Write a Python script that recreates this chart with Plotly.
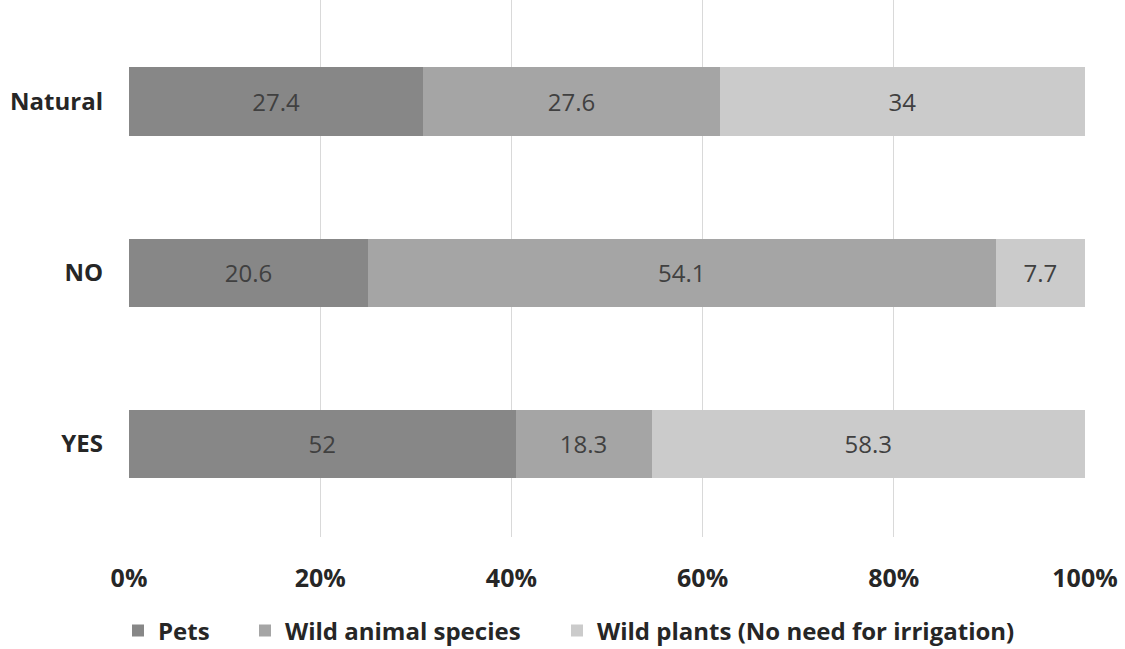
import plotly.graph_objects as go

categories = ["YES", "NO", "Natural"]
pets = [52, 20.6, 27.4]
wild_animals = [18.3, 54.1, 27.6]
wild_plants = [58.3, 7.7, 34]

series_names = ["Pets", "Wild animal species", "Wild plants (No need for irrigation)"]
series_values = [pets, wild_animals, wild_plants]
series_colors = ["#878787", "#a5a5a5", "#cbcbcb"]
legend_ids = ["legend", "legend2", "legend3"]
legend_left_px = [118, 245, 557]

tick_vals = [0, 20, 40, 60, 80, 100]
tick_text = ["0%", "20%", "40%", "60%", "80%", "100%"]

font_family = "Open Sans, Liberation Sans, sans-serif"
W, H = 1125, 649

fig = go.Figure()
for name, vals, color, lg in zip(series_names, series_values, series_colors, legend_ids):
    fig.add_trace(go.Bar(
        name=name,
        y=categories,
        x=vals,
        orientation="h",
        legend=lg,
        showlegend=True,
        marker=dict(color=color, line=dict(width=0)),
        text=[f"{v:g}" for v in vals],
        texttemplate="%{text}",
        textposition="inside",
        insidetextanchor="middle",
        textangle=0,
        constraintext="none",
        textfont=dict(family=font_family, size=24, color="#404040"),
    ))

legend_style = dict(
    orientation="h",
    xref="container", yref="container",
    xanchor="left", yanchor="middle",
    y=1 - 631 / H,
    font=dict(size=24, family=font_family, color="#262626", weight="bold"),
    itemwidth=30,
    bgcolor="rgba(0,0,0,0)",
)

fig.update_layout(
    showlegend=True,
    barmode="stack",
    barnorm="percent",
    bargap=0.6,
    width=W,
    height=H,
    margin=dict(l=129, r=40, t=0, b=112),
    paper_bgcolor="white",
    plot_bgcolor="white",
    font=dict(family=font_family, color="#262626"),
    legend=dict(legend_style, x=legend_left_px[0] / W),
    legend2=dict(legend_style, x=legend_left_px[1] / W),
    legend3=dict(legend_style, x=legend_left_px[2] / W),
    xaxis=dict(
        range=[0, 100],
        tickvals=tick_vals,
        ticktext=tick_text,
        showgrid=True,
        gridcolor="#d9d9d9",
        gridwidth=1,
        zeroline=False,
        showline=False,
        ticks="",
        automargin=False,
        ticklabelstandoff=24,
        tickfont=dict(size=25, family=font_family, color="#262626", weight="bold"),
    ),
    yaxis=dict(
        categoryorder="array",
        categoryarray=categories,
        range=[-0.544, 2.594],
        showgrid=False,
        zeroline=False,
        showline=False,
        ticks="",
        automargin=False,
        ticklabelstandoff=25,
        tickfont=dict(size=24, family=font_family, color="#262626", weight="bold"),
    ),
)

fig.write_html("out.html")
